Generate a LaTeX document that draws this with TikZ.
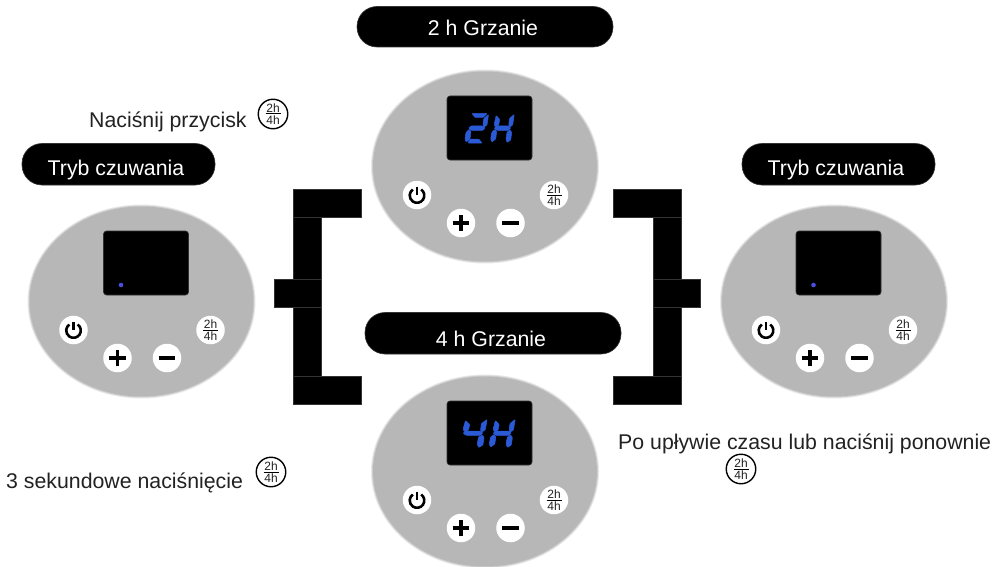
\documentclass[tikz,border=0pt]{standalone}
\usepackage{fontspec}
\setmainfont{Liberation Sans}
\usetikzlibrary{shapes.geometric}
\definecolor{panelgray}{HTML}{B7B7B7}
\definecolor{rimone}{HTML}{E8E8E8}
\definecolor{rimtwo}{HTML}{CECECE}
\definecolor{segblue}{HTML}{2B5AD6}
\definecolor{dotblue}{HTML}{4A4DE0}
\definecolor{inktext}{HTML}{222222}
\definecolor{edgegray}{HTML}{333333}
\tikzset{
  blk/.style={fill=black,draw=edgegray,line width=0.6pt},
  pill/.style={fill=black,draw=edgegray,line width=0.6pt,rounded corners=20pt},
  pilltext/.style={text=white,font=\fontsize{21.3}{25}\selectfont,anchor=base,inner sep=0pt},
  labeltext/.style={text=inktext,font=\fontsize{21.3}{25}\selectfont,anchor=base west,inner sep=0pt},
  keybtn/.style={circle,fill=white,minimum size=28.5pt,inner sep=0pt},
  minitext/.style={text=inktext,font=\fontsize{12}{14}\selectfont,inner sep=0pt},
  iconring/.style={circle,draw=black,fill=white,line width=1.4pt,minimum size=29.5pt,inner sep=0pt},
  seg/.style={fill=segblue,draw=segblue,line width=0.5pt,rounded corners=0.7pt},
  glyph/.style={draw=black,line width=3.2pt},
}
\newcommand{\sA}{\path[seg] (7,0.5)--(22,0.5)--(18,4.5)--(10,4.5)--cycle;}
\newcommand{\sB}{\path[seg] (23.5,1.5)--(22,12)--(19,14)--(18,12)--(18.8,5.5)--cycle;}
\newcommand{\sF}{\path[seg] (5.5,2.5)--(9,6.5)--(8,12)--(5,14)--(3.4,11.5)--cycle;}
\newcommand{\sG}{\path[seg] (6,13)--(18,13)--(20,15)--(18,17.3)--(6,17.3)--(3.5,15.2)--cycle;}
\newcommand{\sE}{\path[seg] (4,16.5)--(6,18.5)--(5,26)--(1.2,29)--(0,26)--(1,19.5)--cycle;}
\newcommand{\sC}{\path[seg] (19.5,17)--(21,19.5)--(20,27)--(16.5,29.5)--(15.2,26)--(16.4,19)--cycle;}
\newcommand{\sD}{\path[seg] (5,26.2)--(14,26.2)--(17,30)--(3,30)--cycle;}
\newcommand{\digitTwo}{\sA\sB\sG\sE\sD}
\newcommand{\digitFour}{\sF\sG\sB\sC}
\newcommand{\digitH}{\sF\sB\sG\sE\sC}
\newcommand{\fracglyph}[1]{%
  \node[minitext] at ([yshift=5.6pt]#1.center) {2h};
  \node[minitext] at ([yshift=-6.2pt]#1.center) {4h};
  \draw[black,line width=1pt] ([xshift=-7.5pt]#1.center) -- ([xshift=7.5pt]#1.center);
}
\newcommand{\panel}[4]{%
\begin{scope}[shift={(#2,#3)}]
  \path[fill=rimone] (38,70.5) ellipse [x radius=114,y radius=97];
  \path[fill=rimtwo] (38,70.5) ellipse [x radius=113,y radius=96];
  \path[fill=panelgray] (38,70.5) ellipse [x radius=112,y radius=95];
  \node[rectangle,fill=black,draw=edgegray,line width=0.6pt,rounded corners=3pt,minimum width=85pt,minimum height=64pt,inner sep=0pt] (#1disp) at (42.5,32) {};
  #4
  \node[keybtn] (#1pow) at (-30,99) {};
  \node[keybtn] (#1plus) at (14,127) {};
  \node[keybtn] (#1minus) at (63.5,127) {};
  \node[keybtn] (#1frac) at (107,99) {};
  \draw[glyph,line width=2.6pt] ([xshift=4.19pt,yshift=5.48pt]#1pow.center) arc[start angle=55,end angle=-235,radius=7.3pt];
  \draw[glyph,line width=2.6pt] ([yshift=8.4pt]#1pow.center) -- ([yshift=0pt]#1pow.center);
  \draw[glyph] ([xshift=-8.3pt]#1plus.center) -- ([xshift=8.3pt]#1plus.center);
  \draw[glyph] ([yshift=-8.3pt]#1plus.center) -- ([yshift=8.3pt]#1plus.center);
  \draw[glyph,line width=3.6pt] ([xshift=-8.3pt]#1minus.center) -- ([xshift=8.3pt]#1minus.center);
  \fracglyph{#1frac}
\end{scope}}
\newcommand{\standbydot}{\path[fill=dotblue] (17.5,54) circle[radius=2.3];}
\begin{document}
\begin{tikzpicture}[x=1pt,y=-1pt]
\useasboundingbox (0,0) rectangle (995,567);
\path[fill=white] (0,0) rectangle (995,567);

% brackets
\draw[blk] (293,217) rectangle (321,279);
\draw[blk] (293,307) rectangle (321,376);
\draw[blk] (293,189) rectangle (361,217);
\draw[blk] (274.5,279) rectangle (321,307);
\draw[blk] (293,376) rectangle (361,404);
\draw[blk] (653,217) rectangle (681.5,279);
\draw[blk] (653,307) rectangle (681.5,376);
\draw[blk] (613,189) rectangle (681.5,217);
\draw[blk] (653,279) rectangle (700,307);
\draw[blk] (613,376) rectangle (681.5,404);

% panels
\panel{pl}{103.5}{231}{\standbydot}
\panel{pr}{796}{231}{\standbydot}
\panel{pt}{447}{96}{%
  \begin{scope}[shift={(18,17)}]\digitTwo\end{scope}
  \begin{scope}[shift={(43.7,17)}]\digitH\end{scope}}
\panel{pb}{447}{401}{%
  \begin{scope}[shift={(11.9,17)},xscale=1.2]\digitFour\end{scope}
  \begin{scope}[shift={(42.3,17)},xscale=1.1]\digitH\end{scope}}

% pills
\draw[pill] (357,6.5) rectangle (613,47);
\draw[pill] (22,143.5) rectangle (215,185);
\draw[pill] (742,143.5) rectangle (935,185);
\draw[pill] (365,312.5) rectangle (621,354);
\node[pilltext] (ttop) at (483,36) {2 h Grzanie};
\node[pilltext] (tbot) at (491,346) {4 h Grzanie};
\node[pilltext] (tleft) at (116,175.5) {Tryb czuwania};
\node[pilltext] (tright) at (836,175.5) {Tryb czuwania};

% labels
\node[labeltext] (la) at (89,127.5) {Naciśnij przycisk};
\node[labeltext] (lb) at (6,488) {3 sekundowe naciśnięcie};
\node[labeltext] (lc) at (618,449) {Po upływie czasu lub naciśnij ponownie};
\node[iconring] (ia) at (273,114) {};
\node[iconring] (ib) at (271,472) {};
\node[iconring] (ic) at (741,469) {};
\fracglyph{ia}
\fracglyph{ib}
\fracglyph{ic}
\end{tikzpicture}
\end{document}
